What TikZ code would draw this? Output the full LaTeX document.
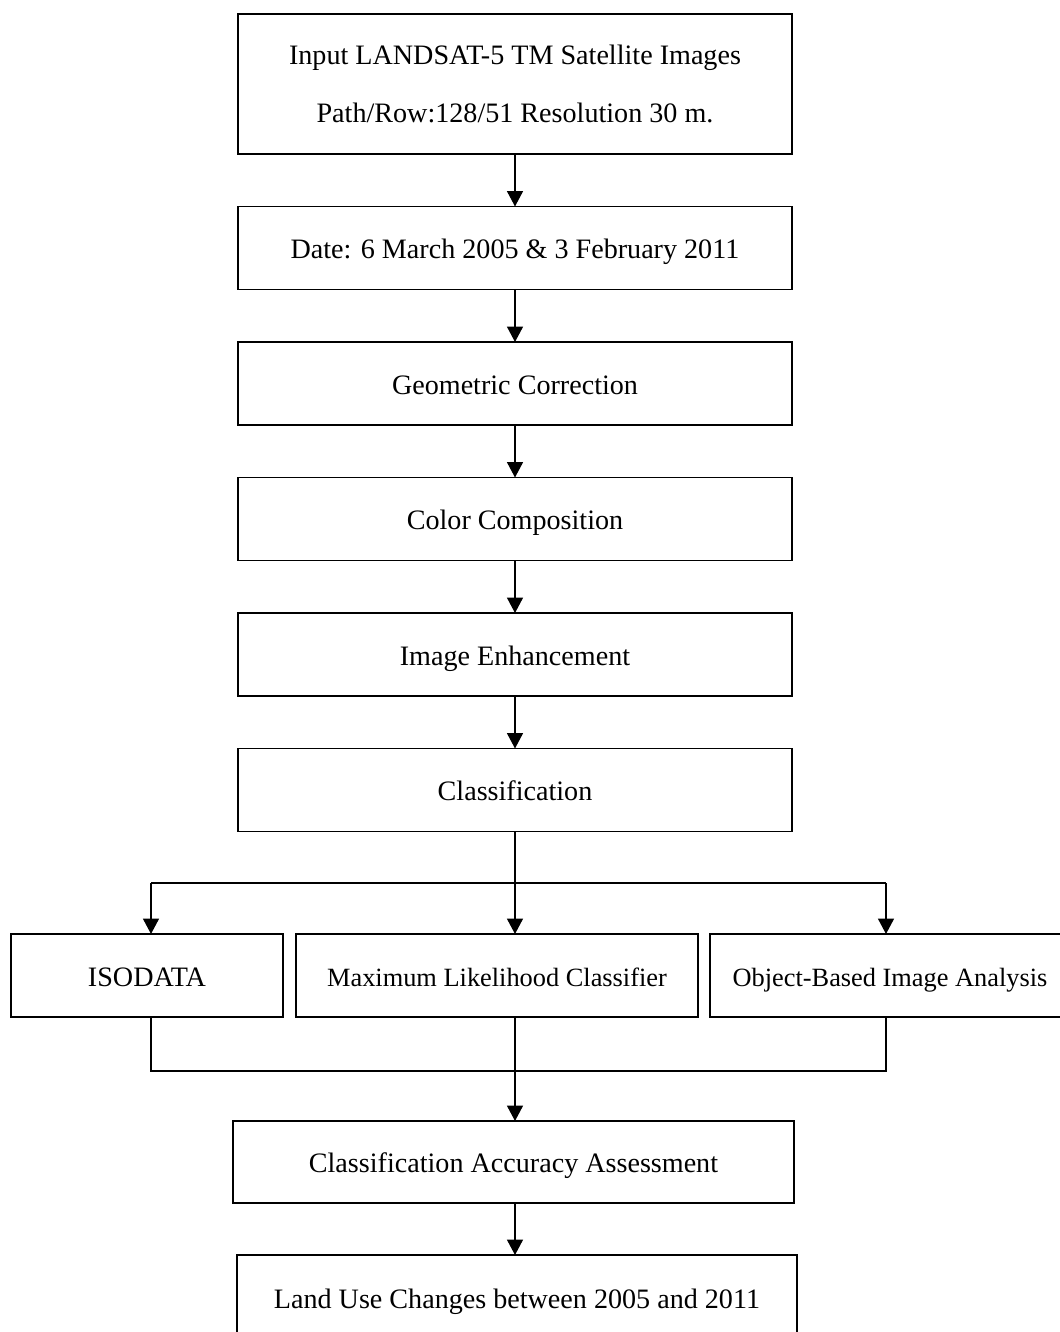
\documentclass[tikz,border=0pt]{standalone}
\usepackage{fontspec}
\setmainfont{Liberation Serif}
\usetikzlibrary{positioning}
\usetikzlibrary{arrows.meta}

\begin{document}
\begin{tikzpicture}[
        box/.style = {
            draw,
            rectangle,
            line width = 0.9pt,
            minimum width = #1,
            minimum height = 1.66cm,
            inner sep = 0pt,
            outer sep = 0pt,
            align = center,
            text height = 12pt,
            text depth = 0pt,
            font = \fontsize{16}{19}\selectfont
        },
        box/.default = 11.08cm,
        link/.style = {line width = 1pt},
        >={Triangle[length=3.1mm, width=3.2mm]},
        node distance = {10.5mm}
        ]
        \useasboundingbox (0,0) rectangle (21.18,-26.64);
%
        \node[box, minimum height=2.8cm, text height=, text depth=, font=\fontsize{16}{33}\selectfont] (1) at (10.3,-1.68)
                        {Input LANDSAT-5 TM Satellite Images\\Path/Row:128/51 Resolution 30 m.};
        \node[box, below=of 1] (2) {Date: 6 March 2005 \& 3 February 2011};
        \node[box, below=of 2] (3) {Geometric Correction};
        \node[box, below=of 3] (4) {Color Composition};
        \node[box, below=of 4] (5) {Image Enhancement};
        \node[box, below=of 5] (6) {Classification};
%
        \node[box=5.44cm] (7) at (2.94,-19.51) {ISODATA};
        \node[box=8.04cm, font=\fontsize{15}{17}\selectfont] (8) at (9.94,-19.51) {Maximum Likelihood Classifier};
        \node[box=7.2cm, font=\fontsize{15}{17}\selectfont] (9) at (17.8,-19.51) {Object-Based Image Analysis};
%
        \node[box=11.22cm, minimum height=1.64cm] (10) at (10.27,-23.24) {Classification Accuracy Assessment};
        \node[box=11.2cm, minimum height=1.72cm] (11) at (10.34,-25.96) {Land Use Changes between 2005 and 2011};
%
        \coordinate (s1) at (3.02,-17.66);
        \coordinate (s2) at (17.72,-17.66);
        \coordinate (j1) at (3.02,-21.42);
        \coordinate (j2) at (17.72,-21.42);
%
        \draw[->, link] (1) -- (2);
        \draw[->, link] (2) -- (3);
        \draw[->, link] (3) -- (4);
        \draw[->, link] (4) -- (5);
        \draw[->, link] (5) -- (6);
%
        \draw[->, link] (6) -- (6 |- 8.north);
        \draw[link] (s1) -- (s2);
        \draw[->, link] (s1) -- (s1 |- 7.north);
        \draw[->, link] (s2) -- (s2 |- 9.north);
%
        \draw[link] (j1 |- 7.south) -- (j1) -- (j2) -- (j2 |- 9.south);
        \draw[->, link] (6 |- 8.south) -- (6 |- 10.north);
        \draw[->, link] (6 |- 10.south) -- (6 |- 11.north);
%
\end{tikzpicture}
\end{document}
